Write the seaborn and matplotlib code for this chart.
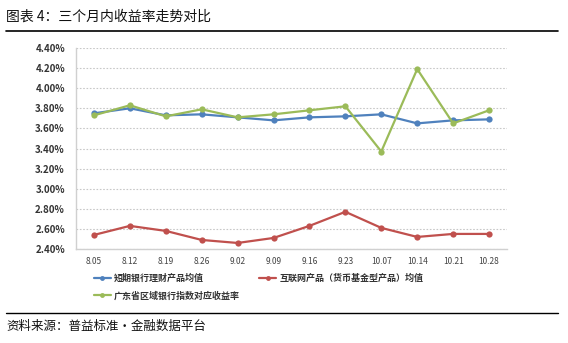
import matplotlib
matplotlib.use("Agg")
import matplotlib.pyplot as plt
import seaborn as sns
import pandas as pd
from matplotlib.ticker import FuncFormatter

dates = ["8.05", "8.12", "8.19", "8.26", "9.02", "9.09", "9.16", "9.23", "10.07", "10.14", "10.21", "10.28"]
bank_short = [3.75, 3.80, 3.73, 3.74, 3.71, 3.68, 3.71, 3.72, 3.74, 3.65, 3.68, 3.69]
internet_mmf = [2.54, 2.63, 2.58, 2.49, 2.46, 2.51, 2.63, 2.77, 2.61, 2.52, 2.55, 2.55]
guangdong_idx = [3.73, 3.83, 3.72, 3.79, 3.71, 3.74, 3.78, 3.82, 3.37, 4.19, 3.65, 3.78]
series_names = ["短期银行理财产品均值", "互联网产品（货币基金型产品）均值", "广东省区域银行指数对应收益率"]
yticks = [2.4, 2.6, 2.8, 3.0, 3.2, 3.4, 3.6, 3.8, 4.0, 4.2, 4.4]

sns.set_theme(style="white")
plt.rcParams["font.family"] = ["Noto Sans CJK SC", "DejaVu Sans"]

rows = []
for name, vals in zip(series_names, [bank_short, internet_mmf, guangdong_idx]):
    for i, (d, v) in enumerate(zip(dates, vals)):
        rows.append({"idx": i, "date": d, "value": v, "series": name})
df = pd.DataFrame(rows)

palette = {series_names[0]: "#4F81BD", series_names[1]: "#C0504D", series_names[2]: "#9BBB59"}

fig = plt.figure(figsize=(5.68, 3.43), dpi=100)
ax = fig.add_axes([76/568, 1-249/343, (507-76)/568, (249-48)/343])

sns.lineplot(data=df, x="idx", y="value", hue="series", palette=palette, marker="o",
             markersize=4.5, markeredgewidth=0, linewidth=1.6, sort=False, ax=ax, legend=True)

ax.set_xlim(-0.5, len(dates) - 0.5)
ax.set_ylim(yticks[0], yticks[-1])
ax.set_yticks(yticks)
ax.yaxis.set_major_formatter(FuncFormatter(lambda v, p: f"{v:.2f}%"))
ax.set_xticks(range(len(dates)))
ax.set_xticklabels(dates)
ax.tick_params(axis="x", labelsize=6, colors="#444444", length=0, pad=6)
ax.tick_params(axis="y", labelsize=7, colors="#333333", length=0, pad=8)
for lbl in ax.get_yticklabels():
    lbl.set_fontweight("bold")
ax.set_xlabel("")
ax.set_ylabel("")
ax.grid(axis="y", linestyle=(0, (1.5, 1.5)), color="#C8C8C8", linewidth=0.8)
for s in ["top", "right"]:
    ax.spines[s].set_visible(False)
for s in ["left", "bottom"]:
    ax.spines[s].set_color("#D0D0D0")
    ax.spines[s].set_linewidth(1)

handles, labels = ax.get_legend_handles_labels()
ax.legend_.remove()
for h in handles:
    h.set_markersize(3.5)
    h.set_linewidth(1.6)
order = [0, 2, 1]
leg = fig.legend([handles[i] for i in order], [labels[i] for i in order], loc="upper left",
                 bbox_to_anchor=(90/568, 1-270/343), ncol=2,
                 frameon=False, fontsize=6.5, handlelength=1.9, columnspacing=2.2, labelspacing=0.9,
                 handletextpad=0.3, borderaxespad=0)
for t in leg.get_texts():
    t.set_fontweight("bold")
    t.set_color("#333333")

fig.text(6/568, 1-17/343, "图表 4：三个月内收益率走势对比", fontsize=10, va="center", ha="left", color="#111111")

fig.add_artist(plt.Line2D([6/568, 558/568], [1-31/343, 1-31/343], color="black", linewidth=1.2))
fig.add_artist(plt.Line2D([6/568, 558/568], [1-313/343, 1-313/343], color="black", linewidth=1.0))
fig.text(6/568, 1-326/343, "资料来源：普益标准・金融数据平台", fontsize=9, va="center", ha="left", color="#111111")

fig.savefig("out.png", dpi=100)
